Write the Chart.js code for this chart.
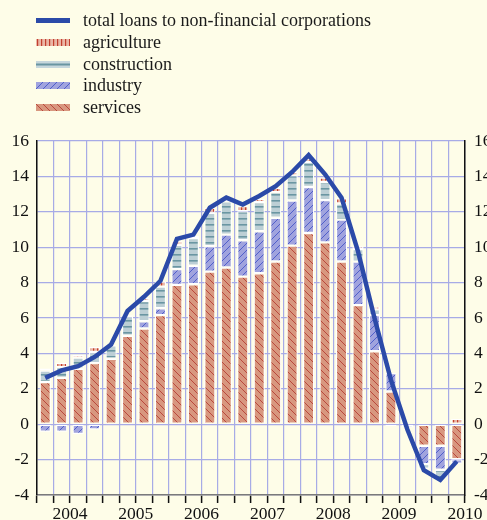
<!DOCTYPE html>
<html>
<head>
<meta charset="utf-8">
<script src="https://cdn.jsdelivr.net/npm/chart.js@4.4.0/dist/chart.umd.min.js"></script>
<style>
    html, body { margin: 0; padding: 0; background: #fefde8; overflow: hidden; }
    #wrap { position: relative; width: 487px; height: 520px; }
    #chart { position: absolute; left: 0; top: 0; }
    #legend { position: absolute; left: 36px; top: 10px; font: 18px "Liberation Serif", serif; color: #1a1a1a; }
    .row { display: flex; align-items: center; height: 21.7px; white-space: nowrap; }
    .row canvas { margin-right: 13px; }
</style>
</head>
<body>
<div id="wrap">
    <canvas id="chart" width="487" height="520"></canvas>
    <div id="legend"></div>
</div>
<script>
const quarters = [
    '2004 Q1', '2004 Q2', '2004 Q3', '2004 Q4',
    '2005 Q1', '2005 Q2', '2005 Q3', '2005 Q4',
    '2006 Q1', '2006 Q2', '2006 Q3', '2006 Q4',
    '2007 Q1', '2007 Q2', '2007 Q3', '2007 Q4',
    '2008 Q1', '2008 Q2', '2008 Q3', '2008 Q4',
    '2009 Q1', '2009 Q2', '2009 Q3', '2009 Q4',
    '2010 Q1', '2010 Q2'
];

const totalLoans = [2.62, 3.04, 3.28, 3.8, 4.5, 6.4, 7.2, 8.1, 10.47, 10.71, 12.23, 12.8, 12.41,
    12.89, 13.45, 14.25, 15.2, 14.12, 12.8, 9.76, 6.0, 2.5, -0.3, -2.6, -3.15, -2.1];
const services = [2.38, 2.62, 3.13, 3.45, 3.7, 5.0, 5.41, 6.16, 7.87, 7.91, 8.62, 8.85, 8.34,
    8.53, 9.19, 10.09, 10.8, 10.27, 9.19, 6.73, 4.12, 1.85, 0, -1.22, -1.22, -1.98];
const industry = [-0.42, -0.42, -0.55, -0.3, -0.06, 0, 0.41, 0.39, 0.89, 1.04, 1.43, 1.86, 2.05,
    2.37, 2.47, 2.55, 2.6, 2.39, 2.37, 2.46, 2.04, 1.04, 0, -1.04, -1.35, -0.25];
const construction = [0.65, 0.6, 0.63, 0.63, 0.76, 1.1, 1.14, 1.22, 1.38, 1.57, 1.89, 1.89, 1.64,
    1.65, 1.45, 1.42, 1.42, 1.02, 0.91, 0.71, 0.33, -0.1, -0.18, -0.25, -0.5, 0];
const agriculture = [0.12, 0.25, 0.15, 0.28, 0, 0.06, 0.17, 0.29, 0.19, 0.13, 0.29, 0.1, 0.29,
    0.19, 0.25, 0.19, 0.19, 0.25, 0.29, 0.15, 0.15, 0, 0, 0, 0, 0.3];

const yMin = -4;
const yMax = 16;
const yStep = 2;

const FONT = { family: '"Liberation Serif", serif', size: 17.5 };
const GRID = '#a7abe6';


/* ==============================
   HATCH PATTERNS
================================= */

function makePattern(kind) {
    const c = document.createElement('canvas');
    const ctx = c.getContext('2d');

    if (kind === 'services') {
        c.width = 7; c.height = 7;
        ctx.fillStyle = '#d8977f';
        ctx.fillRect(0, 0, 7, 7);
        ctx.strokeStyle = 'rgba(178, 52, 44, 0.8)';
        ctx.lineWidth = 1;
        ctx.beginPath();
        ctx.moveTo(-1, -1); ctx.lineTo(8, 8);
        ctx.stroke();
    } else if (kind === 'industry') {
        c.width = 7; c.height = 7;
        ctx.fillStyle = '#a0a3de';
        ctx.fillRect(0, 0, 7, 7);
        ctx.strokeStyle = 'rgba(60, 78, 196, 0.8)';
        ctx.lineWidth = 1;
        ctx.beginPath();
        ctx.moveTo(-1, 8); ctx.lineTo(8, -1);
        ctx.stroke();
    } else if (kind === 'construction') {
        c.width = 6; c.height = 6;
        ctx.fillStyle = '#bccfd5';
        ctx.fillRect(0, 0, 6, 6);
        ctx.fillStyle = '#6a96a2';
        ctx.fillRect(0, 2, 6, 1.6);
    } else {
        c.width = 4; c.height = 4;
        ctx.fillStyle = '#eab6a6';
        ctx.fillRect(0, 0, 4, 4);
        ctx.fillStyle = '#c2402f';
        ctx.fillRect(1, 0, 1.2, 4);
    }
    return ctx.createPattern(c, 'repeat');
}

const patterns = {
    services: makePattern('services'),
    industry: makePattern('industry'),
    construction: makePattern('construction'),
    agriculture: makePattern('agriculture')
};


/* ==============================
   LEGEND (HTML)
================================= */

function buildLegend() {
    const items = [
        { text: 'total loans to non-financial corporations', kind: 'line' },
        { text: 'agriculture', kind: 'agriculture' },
        { text: 'construction', kind: 'construction' },
        { text: 'industry', kind: 'industry' },
        { text: 'services', kind: 'services' }
    ];
    const legend = document.getElementById('legend');

    items.forEach(item => {
        const row = document.createElement('div');
        row.className = 'row';
        const sw = document.createElement('canvas');
        sw.width = 34;
        sw.height = item.kind === 'line' ? 5 : 7;
        const ctx = sw.getContext('2d');
        if (item.kind === 'line') {
            ctx.fillStyle = '#2b4aa8';
            ctx.fillRect(0, 0, 34, 5);
        } else if (item.kind === 'construction') {
            ctx.fillStyle = '#c6d7dc';
            ctx.fillRect(0, 0, 34, 7);
            ctx.fillStyle = '#6a96a2';
            ctx.fillRect(0, 2.5, 34, 2);
        } else {
            ctx.fillStyle = patterns[item.kind];
            ctx.fillRect(0, 0, 34, 7);
        }
        const label = document.createElement('span');
        label.textContent = item.text;
        row.appendChild(sw);
        row.appendChild(label);
        legend.appendChild(row);
    });
}


/* ==============================
   CHART
================================= */

function barSet(label, data, pattern) {
    return {
        type: 'bar',
        label,
        data,
        backgroundColor: pattern,
        borderColor: '#ffffff',
        borderWidth: 1.2,
        borderSkipped: false,
        barPercentage: 0.68,
        categoryPercentage: 1.0,
        order: 1
    };
}

function renderChart() {
    const ctx = document.getElementById('chart').getContext('2d');

    new Chart(ctx, {
        data: {
            labels: quarters,
            datasets: [
                {
                    type: 'line',
                    label: 'total loans to non-financial corporations',
                    data: totalLoans,
                    borderColor: '#2b4aa8',
                    borderWidth: 4.5,
                    pointRadius: 0,
                    tension: 0,
                    stack: 'total',
                    order: 0
                },
                barSet('services', services, patterns.services),
                barSet('industry', industry, patterns.industry),
                barSet('construction', construction, patterns.construction),
                barSet('agriculture', agriculture, patterns.agriculture)
            ]
        },
        options: {
            responsive: false,
            animation: false,
            layout: { padding: { top: 141, left: 0, right: 0, bottom: 0 } },
            plugins: {
                legend: { display: false },
                tooltip: { enabled: false }
            },
            scales: {
                x: {
                    stacked: true,
                    offset: true,
                    grid: {
                        offset: true,
                        color: GRID,
                        lineWidth: 1.2,
                        tickLength: 8,
                        tickColor: '#111',
                        tickWidth: 1.5
                    },
                    border: { color: '#7a7a7a', width: 1.5 },
                    ticks: {
                        autoSkip: false,
                        maxRotation: 0,
                        labelOffset: 8.2,
                        padding: 1,
                        color: '#111',
                        font: FONT,
                        callback: (v, i) => i % 4 === 1 ? quarters[i].slice(0, 4) : ''
                    },
                    afterFit: (s) => { s.height = 25; }
                },
                y: {
                    stacked: true,
                    position: 'left',
                    min: yMin,
                    max: yMax,
                    ticks: { stepSize: yStep, padding: 8, color: '#111', font: FONT },
                    grid: { color: GRID, lineWidth: 1.2, drawTicks: false },
                    border: { color: '#111', width: 1.5 },
                    afterFit: (s) => { s.width = 37; }
                },
                y2: {
                    position: 'right',
                    min: yMin,
                    max: yMax,
                    ticks: { stepSize: yStep, padding: 9, color: '#111', font: FONT },
                    grid: { color: 'rgba(0,0,0,0)', drawTicks: false },
                    border: { color: '#111', width: 1.5 },
                    afterFit: (s) => { s.width = 22; }
                }
            }
        }
    });
}

buildLegend();
renderChart();
</script>
</body>
</html>
